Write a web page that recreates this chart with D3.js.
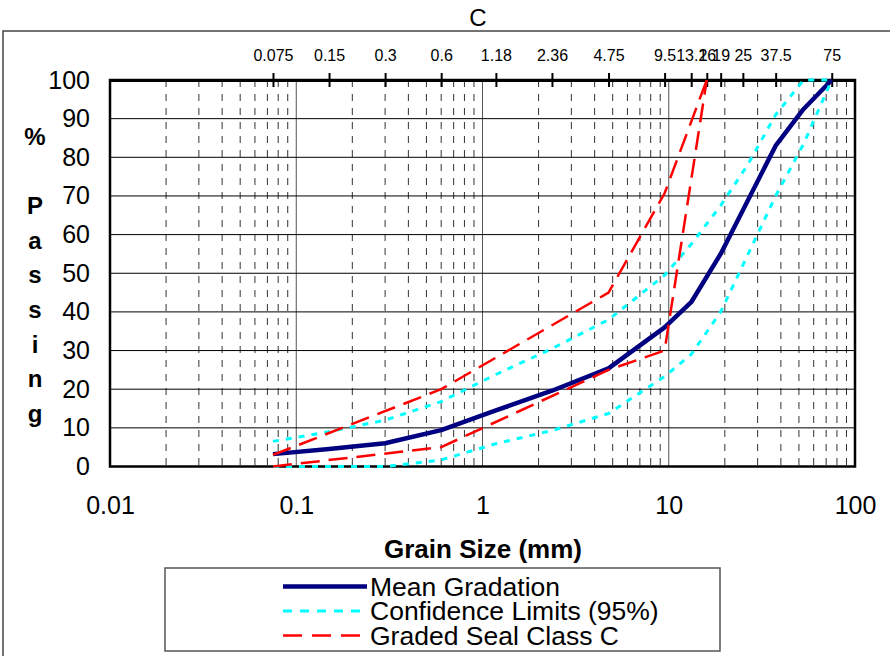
<!DOCTYPE html>
<html>
<head>
<meta charset="utf-8">
<script src="https://cdn.jsdelivr.net/npm/d3@7"></script>
<style>
  body { margin: 0; background: #fff; }
  text { font-family: "Liberation Sans", Arial, sans-serif; }
</style>
</head>
<body>
<div id="chart-area"></div>
<script>
// sieve sizes (mm) and % passing
var meanSize = [0.075, 0.15, 0.3, 0.6, 1.18, 2.36, 4.75, 9.5, 13.2, 19, 37.5, 53, 75];
var meanPass = [3.2, 4.5, 6, 9.4, 14.5, 19.6, 25.4, 36, 42.5, 55, 83, 92.5, 100];

var confSize  = [0.075, 0.15, 0.3, 0.6, 1.18, 2.36, 4.75, 9.5, 13.2, 19, 26.5, 37.5, 53, 75];
var confUpper = [6.5, 9, 12, 16.8, 23.8, 30.5, 38, 49.5, 57.5, 67.5, 78, 91, 100, 100];
var confLower = [0, 0, 0, 1.7, 5.9, 9.3, 13.7, 23.3, 29, 40, 54.7, 70, 83.5, 100];

var sealSize  = [0.075, 0.6, 4.75, 9.5, 16];
var sealUpper = [3, 20, 45, 70.7, 100];
var sealLower = [0, 5, 25, 30, 100];

var topTicks = [0.075, 0.15, 0.3, 0.6, 1.18, 2.36, 4.75, 9.5, 13.2, 16, 19, 25, 37.5, 75];
var bottomTicks = [0.01, 0.1, 1, 10, 100];
var yTicks = [0, 10, 20, 30, 40, 50, 60, 70, 80, 90, 100];
var minorMult = [2, 3, 4, 5, 6, 7, 8, 9];
var decades = [0.01, 0.1, 1, 10];

var legendNames = ["Mean Gradation", "Confidence Limits (95%)", "Graded Seal Class C"];

var W = 890, H = 656;
var plot = {left: 110, right: 855, top: 80, bottom: 466.5};

var svg = d3.select("#chart-area").append("svg")
  .attr("width", W)
  .attr("height", H);

// outer chart frame
svg.append("rect")
  .attr("x", 3).attr("y", 31)
  .attr("width", 950).attr("height", 700)
  .attr("fill", "#fff")
  .attr("stroke", "#444")
  .attr("stroke-width", 1.5);

svg.append("text")
  .attr("x", 478).attr("y", 26)
  .attr("text-anchor", "middle")
  .attr("font-size", "24px")
  .text("C");

var x = d3.scaleLog().domain([0.01, 100]).range([plot.left, plot.right]);
var y = d3.scaleLinear().domain([0, 100]).range([plot.bottom, plot.top]);

var g = svg.append("g");

// minor dashed verticals
var minors = [];
decades.forEach(function(d) {
  minorMult.forEach(function(m) { minors.push(d * m); });
});
g.selectAll(".minor").data(minors).enter().append("line")
  .attr("class", "minor")
  .attr("x1", d => x(d)).attr("x2", d => x(d))
  .attr("y1", plot.top).attr("y2", plot.bottom)
  .attr("stroke", "#333")
  .attr("stroke-width", 1)
  .attr("stroke-dasharray", "7,7");

// decade lines
g.selectAll(".major").data([0.1, 1, 10]).enter().append("line")
  .attr("class", "major")
  .attr("x1", d => x(d)).attr("x2", d => x(d))
  .attr("y1", plot.top).attr("y2", plot.bottom)
  .attr("stroke", "#555")
  .attr("stroke-width", 1);

// horizontal grid
g.selectAll(".hgrid").data(yTicks.slice(1, -1)).enter().append("line")
  .attr("class", "hgrid")
  .attr("x1", plot.left).attr("x2", plot.right)
  .attr("y1", d => y(d)).attr("y2", d => y(d))
  .attr("stroke", "#000")
  .attr("stroke-width", 1);

// plot border
g.append("rect")
  .attr("x", plot.left).attr("y", plot.top)
  .attr("width", plot.right - plot.left).attr("height", plot.bottom - plot.top)
  .attr("fill", "none")
  .attr("stroke", "#000")
  .attr("stroke-width", 2.5);

// top sieve axis
var topAxis = g.append("g")
  .attr("transform", "translate(0," + plot.top + ")")
  .call(d3.axisTop(x).tickValues(topTicks).tickSize(7).tickSizeOuter(0).tickPadding(12).tickFormat(d => d));
topAxis.select(".domain").attr("stroke-width", 3);
topAxis.selectAll(".tick line").attr("y1", 7).attr("stroke-width", 2);
topAxis.selectAll("text")
  .attr("font-size", "16px")
  .attr("font-family", "Liberation Sans, Arial, sans-serif")
  .attr("fill", "#000");

var line = d3.line()
  .x(d => x(d[0]))
  .y(d => y(d[1]));

function pairs(xs, ys) {
  return xs.map((v, i) => [v, ys[i]]);
}

var series = [
  {pts: pairs(meanSize, meanPass), color: "#000080", w: 4.5, dash: null},
  {pts: pairs(confSize, confUpper), color: "#00ffff", w: 3, dash: "6,7"},
  {pts: pairs(confSize, confLower), color: "#00ffff", w: 3, dash: "6,7"},
  {pts: pairs(sealSize, sealUpper), color: "#ff0000", w: 2.5, dash: "19,9"},
  {pts: pairs(sealSize, sealLower), color: "#ff0000", w: 2.5, dash: "19,9"}
];

g.selectAll(".series").data(series).enter().append("path")
  .attr("class", "series")
  .attr("d", d => line(d.pts))
  .attr("fill", "none")
  .attr("stroke", d => d.color)
  .attr("stroke-width", d => d.w)
  .attr("stroke-dasharray", d => d.dash)
  .attr("stroke-linejoin", "round");

var xAxis = g.append("g")
  .attr("transform", "translate(0," + plot.bottom + ")")
  .call(d3.axisBottom(x).tickValues(bottomTicks).tickSize(0).tickPadding(30).tickFormat(d => d));
xAxis.select(".domain").remove();
xAxis.selectAll("text")
  .attr("font-size", "25px")
  .attr("font-family", "Liberation Sans, Arial, sans-serif")
  .attr("fill", "#000");

var yAxis = g.append("g")
  .attr("transform", "translate(" + plot.left + ",0)")
  .call(d3.axisLeft(y).tickValues(yTicks).tickSize(0).tickPadding(20));
yAxis.select(".domain").remove();
yAxis.selectAll("text")
  .attr("font-size", "25px")
  .attr("font-family", "Liberation Sans, Arial, sans-serif")
  .attr("fill", "#000");

// stacked y title
var yTitle = ["%", "", "P", "a", "s", "s", "i", "n", "g"];
svg.append("g").selectAll("text").data(yTitle).enter().append("text")
  .attr("x", 35)
  .attr("y", (d, i) => 145 + i * 34.6)
  .attr("text-anchor", "middle")
  .attr("font-size", "24px")
  .attr("font-weight", "bold")
  .text(d => d);

svg.append("text")
  .attr("x", 483).attr("y", 558)
  .attr("text-anchor", "middle")
  .attr("font-size", "26px")
  .attr("font-weight", "bold")
  .text("Grain Size (mm)");

// legend
var legend = svg.append("g");
legend.append("rect")
  .attr("x", 165).attr("y", 568)
  .attr("width", 555).attr("height", 83)
  .attr("fill", "#fff")
  .attr("stroke", "#555")
  .attr("stroke-width", 1.5);

var legendStyle = [series[0], series[1], series[3]];
legendNames.forEach(function(name, i) {
  var cy = 586.5 + i * 24.5;
  legend.append("line")
    .attr("x1", 283).attr("x2", 367)
    .attr("y1", cy).attr("y2", cy)
    .attr("stroke", legendStyle[i].color)
    .attr("stroke-width", legendStyle[i].w)
    .attr("stroke-dasharray", i == 0 ? null : (i == 1 ? "9,8" : "19,10"));
  legend.append("text")
    .attr("x", 370).attr("y", cy + 9)
    .attr("font-size", "26.5px")
    .text(name);
});
</script>
</body>
</html>
